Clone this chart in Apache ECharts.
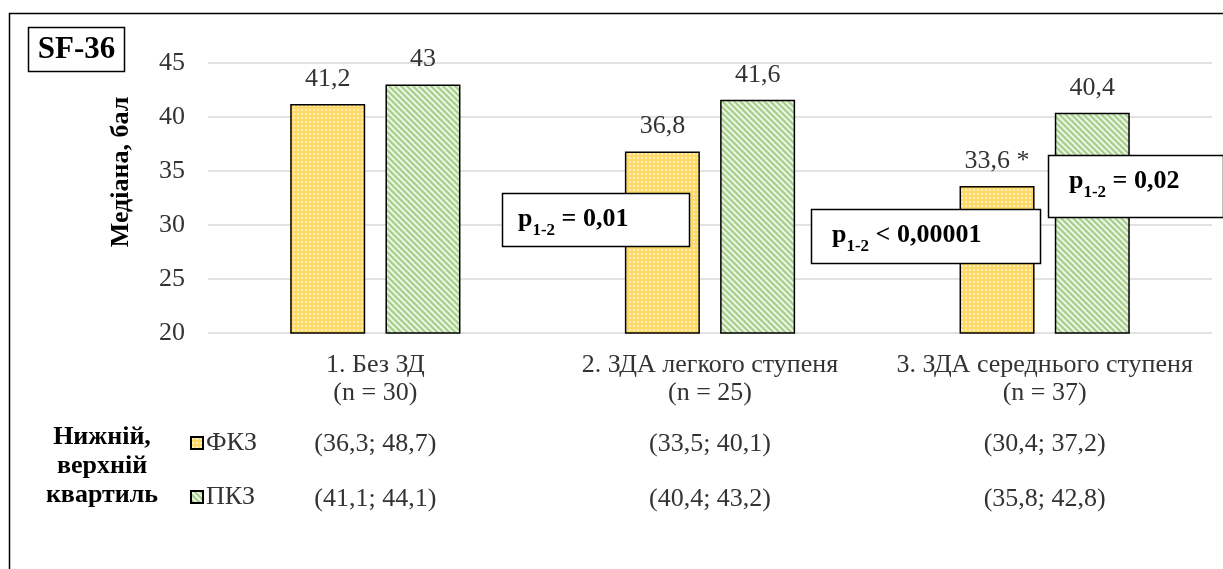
<!DOCTYPE html>
<html>
<head>
<meta charset="utf-8">
<script src="https://cdn.jsdelivr.net/npm/echarts@6/dist/echarts.min.js"></script>
<style>
html,body{margin:0;padding:0;background:#fff;}
#chart{width:1223px;height:569px;}
</style>
</head>
<body>
<div id="chart"></div>
<script>
// ---- data ----
const categories = ['1. Без ЗД\n(n = 30)', '2. ЗДА легкого ступеня\n(n = 25)', '3. ЗДА середнього ступеня\n(n = 37)'];
const seriesNames = ['ФКЗ', 'ПКЗ'];
const fkz = [41.2, 36.8, 33.6];
const pkz = [43, 41.6, 40.4];
const fkzNotes = ['', '', ' *'];
const fkzQuartiles = ['(36,3; 48,7)', '(33,5; 40,1)', '(30,4; 37,2)'];
const pkzQuartiles = ['(41,1; 44,1)', '(40,4; 43,2)', '(35,8; 42,8)'];
const pValues = ['= 0,01', '< 0,00001', '= 0,02'];
const yMin = 20, yMax = 45, yStep = 5;
const yTitle = 'Медіана, бал';
const quartTitle = 'Нижній,\nверхній\nквартиль';
const badge = 'SF-36';

const FONT = '"Liberation Serif", "Times New Roman", serif';
const TXT = '#333333';
const FS = 26;

function dotPattern() {
  const c = document.createElement('canvas');
  c.width = 4; c.height = 4;
  const g = c.getContext('2d');
  g.fillStyle = '#FFD966'; g.fillRect(0, 0, 4, 4);
  g.fillStyle = 'rgba(255,255,255,0.85)';
  g.beginPath(); g.arc(2, 2, 0.9, 0, Math.PI * 2); g.fill();
  return c;
}
function stripePattern() {
  const s = 6;
  const c = document.createElement('canvas');
  c.width = s; c.height = s;
  const g = c.getContext('2d');
  g.fillStyle = '#A9D18E'; g.fillRect(0, 0, s, s);
  g.strokeStyle = '#F2F8EE'; g.lineWidth = 1.8;
  g.beginPath();
  g.moveTo(-1, -1); g.lineTo(s + 1, s + 1);
  g.moveTo(-1, s - 1); g.lineTo(1, s + 1);
  g.moveTo(s - 1, -1); g.lineTo(s + 1, 1);
  g.stroke();
  return c;
}
const yellowFill = { image: dotPattern(), repeat: 'repeat' };
const greenFill = { image: stripePattern(), repeat: 'repeat' };

const chart = echarts.init(document.getElementById('chart'), null, { renderer: 'canvas' });

function fmt(v) { return String(v).replace('.', ','); }

chart.setOption({
  animation: false,
  backgroundColor: '#fff',
  grid: { left: 208, right: 11, top: 63, bottom: 236, containLabel: false },
  legend: {
    data: seriesNames,
    orient: 'vertical',
    left: 190, top: 430,
    padding: 0,
    itemWidth: 12, itemHeight: 12,
    itemGap: 28,
    icon: 'rect',
    textStyle: { fontFamily: FONT, fontSize: FS, color: TXT, padding: [0, 0, 0, -2] }
  },
  xAxis: {
    type: 'category',
    data: categories,
    axisLine: { show: false },
    axisTick: { show: false },
    axisLabel: { fontFamily: FONT, fontSize: FS, color: TXT, lineHeight: 28, margin: 18, interval: 0 }
  },
  yAxis: {
    type: 'value',
    min: yMin, max: yMax, interval: yStep,
    axisLine: { show: false },
    axisTick: { show: false },
    axisLabel: { fontFamily: FONT, fontSize: FS, color: TXT, margin: 23 },
    splitLine: { lineStyle: { color: '#d9d9d9', width: 1.5 } }
  },
  series: [
    {
      name: seriesNames[0], type: 'bar', data: fkz,
      barWidth: 75, barGap: '27%',
      itemStyle: { color: yellowFill, borderColor: '#000', borderWidth: 1.5 },
      label: { show: true, position: 'top', distance: 12, fontFamily: FONT, fontSize: FS, color: TXT,
        formatter: p => fmt(p.value) + fkzNotes[p.dataIndex] }
    },
    {
      name: seriesNames[1], type: 'bar', data: pkz,
      barWidth: 75,
      itemStyle: { color: greenFill, borderColor: '#000', borderWidth: 1.5 },
      label: { show: true, position: 'top', distance: 12, fontFamily: FONT, fontSize: FS, color: TXT,
        formatter: p => fmt(p.value) }
    }
  ]
});

// ---- overlay text and boxes ----
const graphics = [];
graphics.push({ type: 'rect', shape: { x: 9.5, y: 13.5, width: 1240, height: 600 },
  style: { fill: null, stroke: '#000', lineWidth: 1.5 }, z: 100 });
graphics.push({ type: 'rect', shape: { x: 28.5, y: 27.5, width: 96, height: 44 },
  style: { fill: '#fff', stroke: '#000', lineWidth: 1.5 }, z: 100 });
graphics.push({ type: 'text', x: 76.5, y: 50, style: { text: badge, font: 'bold 31px ' + FONT,
  fill: '#000', align: 'center', verticalAlign: 'middle' }, z: 101 });
graphics.push({ type: 'text', x: 121, y: 172, rotation: Math.PI / 2,
  style: { text: yTitle, font: 'bold 26px ' + FONT, fill: '#000', align: 'center', verticalAlign: 'middle' }, z: 101 });
graphics.push({ type: 'text', x: 102, y: 466,
  style: { text: quartTitle, font: 'bold 26px ' + FONT, fill: '#000', align: 'center', verticalAlign: 'middle', lineHeight: 29 }, z: 101 });
categories.forEach((c, i) => {
  const x = chart.convertToPixel({ xAxisIndex: 0 }, i);
  graphics.push({ type: 'text', x: x, y: 444, style: { text: fkzQuartiles[i], font: FS + 'px ' + FONT, fill: TXT, align: 'center', verticalAlign: 'middle' } });
  graphics.push({ type: 'text', x: x, y: 499, style: { text: pkzQuartiles[i], font: FS + 'px ' + FONT, fill: TXT, align: 'center', verticalAlign: 'middle' } });
});
const pBoxes = [
  { x: 502.5, y: 193.5, w: 187, h: 53, tx: 518, ty: 219 },
  { x: 811.5, y: 209.5, w: 229, h: 54, tx: 832, ty: 235 },
  { x: 1048.5, y: 155.5, w: 175, h: 62, tx: 1069, ty: 181 }
];
pBoxes.forEach((b, i) => {
  graphics.push({ type: 'rect', shape: { x: b.x, y: b.y, width: b.w, height: b.h },
    style: { fill: '#fff', stroke: '#000', lineWidth: 1.5 }, z: 100 });
  graphics.push({ type: 'text', x: b.tx, y: b.ty, z: 101,
    style: { text: '{p|p}{s|1-2}{p| ' + pValues[i] + '}', align: 'left', verticalAlign: 'middle',
      rich: {
        p: { font: 'bold 26px ' + FONT, fill: '#000', verticalAlign: 'bottom' },
        s: { font: 'bold 17px ' + FONT, fill: '#000', verticalAlign: 'bottom', padding: [0, 0, -7, 0] }
      } } });
});
chart.setOption({ graphic: graphics });
</script>
</body>
</html>
